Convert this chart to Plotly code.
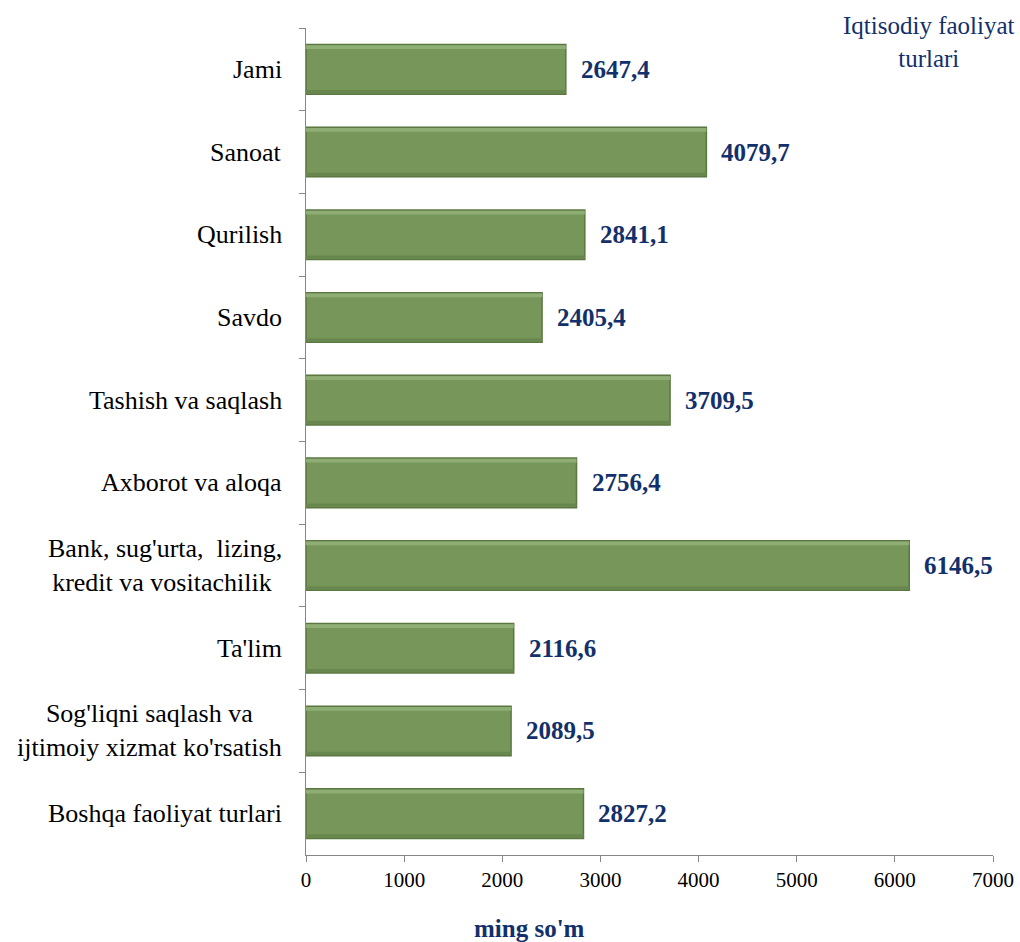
import plotly.graph_objects as go

categories = [
    "Jami",
    "Sanoat",
    "Qurilish",
    "Savdo",
    "Tashish va saqlash",
    "Axborot va aloqa",
    "Bank, sug'urta,  lizing,<br>kredit va vositachilik ",
    "Ta'lim",
    "Sog'liqni saqlash va<br>ijtimoiy xizmat ko'rsatish",
    "Boshqa faoliyat turlari",
]
values = [2647.4, 4079.7, 2841.1, 2405.4, 3709.5, 2756.4, 6146.5, 2116.6, 2089.5, 2827.2]
value_labels = ["2647,4", "4079,7", "2841,1", "2405,4", "3709,5", "2756,4", "6146,5", "2116,6", "2089,5", "2827,2"]
x_ticks = [0, 1000, 2000, 3000, 4000, 5000, 6000, 7000]

SERIF = "Liberation Serif, Times New Roman, serif"
NAVY = "#12306A"

fig = go.Figure()
# main bar body
fig.add_trace(go.Bar(
    y=categories, x=values, orientation="h", width=0.6,
    marker=dict(color="#76965A", line=dict(color="#5A773F", width=1.5)),
    hoverinfo="x+y",
))
# light top bevel strip
fig.add_trace(go.Bar(
    y=categories, x=values, orientation="h", width=0.045, offset=-0.29,
    marker=dict(color="#8FAE75", line=dict(width=0)),
    hoverinfo="skip",
))
# dark bottom bevel strip
fig.add_trace(go.Bar(
    y=categories, x=values, orientation="h", width=0.04, offset=0.25,
    marker=dict(color="#68874E", line=dict(width=0)),
    hoverinfo="skip",
))

annotations = []
for cat, v, lab in zip(categories, values, value_labels):
    annotations.append(dict(
        x=v, y=cat, xref="x", yref="y", text=f"<b>{lab}</b>",
        showarrow=False, xanchor="left", xshift=13,
        font=dict(family=SERIF, size=25, color=NAVY),
    ))
    annotations.append(dict(
        x=0, y=cat, xref="paper", yref="y", text=cat,
        showarrow=False, xanchor="right", align="center", xshift=-22,
        font=dict(family=SERIF, size=26, color="#000000"),
    ))

annotations.append(dict(
    x=1.0, y=1.0, xref="paper", yref="paper", yanchor="top", xanchor="right",
    text="Iqtisodiy faoliyat<br>turlari", showarrow=False, align="center",
    xshift=24, yshift=18,
    font=dict(family=SERIF, size=25, color=NAVY),
))
annotations.append(dict(
    x=(472 - 306) / 687, xref="paper", y=0, yref="paper",
    text="<b>ming so'm</b>", showarrow=False, yanchor="middle", yshift=-73,
    font=dict(family=SERIF, size=25, color=NAVY),
))

fig.update_layout(
    width=1020, height=942,
    margin=dict(l=306, r=27, t=28, b=87, autoexpand=False),
    plot_bgcolor="white", paper_bgcolor="white",
    showlegend=False,
    annotations=annotations,
    barmode="overlay",
)
fig.update_xaxes(
    range=[0, 7000], tickvals=x_ticks, ticktext=[str(t) for t in x_ticks],
    showgrid=False, zeroline=False, showline=True, linecolor="#868686", linewidth=1,
    ticks="outside", ticklen=6, tickcolor="#868686", automargin=False,
    tickfont=dict(family=SERIF, size=21, color="#000000"),
)
fig.update_yaxes(
    autorange="reversed", type="category", showticklabels=False, automargin=False,
    showgrid=False, zeroline=False, showline=True, linecolor="#868686", linewidth=1,
    ticks="outside", ticklen=6, tickcolor="#868686", tickson="boundaries",
)

fig.write_html(
    "out.html",
    config={"displayModeBar": False},
    post_script="document.body.style.margin='0';document.body.style.overflow='hidden';",
)
